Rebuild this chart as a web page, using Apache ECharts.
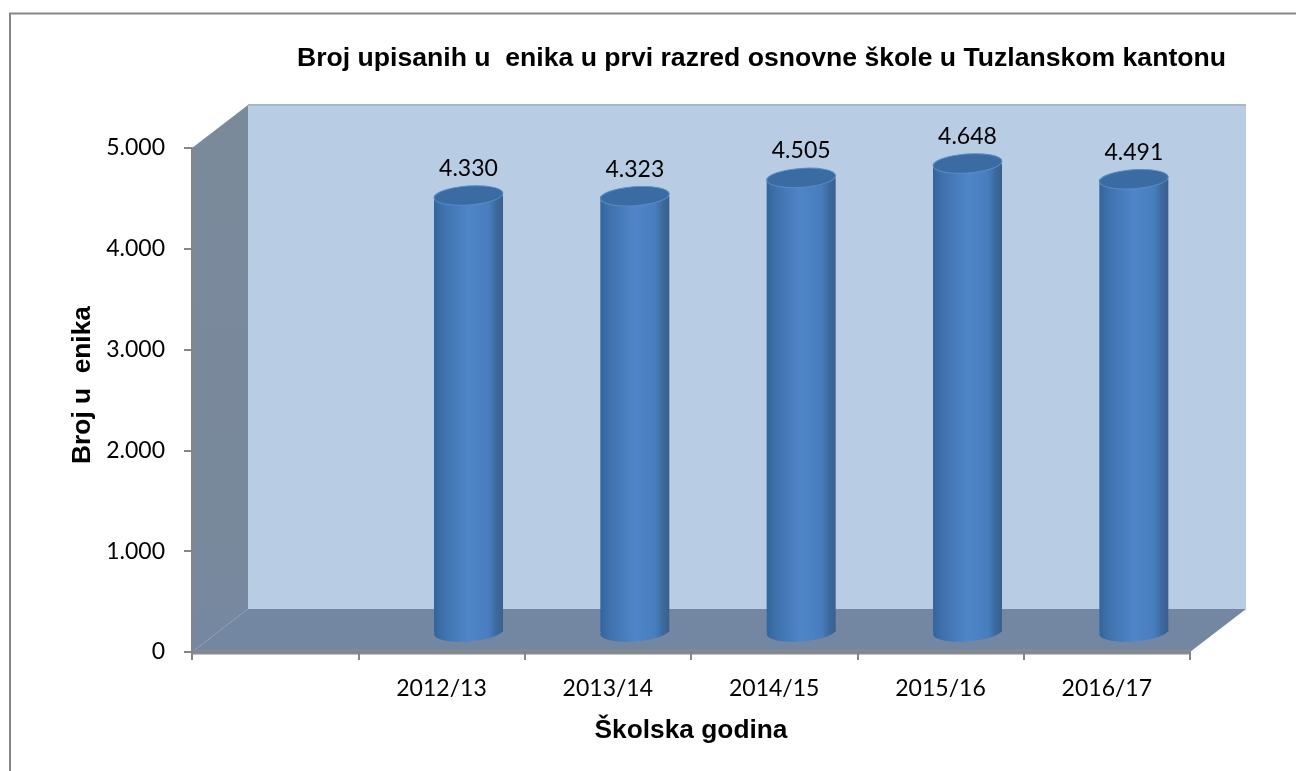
<!DOCTYPE html>
<html><head><meta charset="utf-8">
<style>html,body{margin:0;padding:0;background:#fff}#c{width:1296px;height:771px}</style>
<script src="https://cdn.jsdelivr.net/npm/echarts@6/dist/echarts.min.js"></script>
</head><body><div id="c"></div>
<script>
const titleText = 'Broj upisanih u  enika u prvi razred osnovne škole u Tuzlanskom kantonu';
const yName = 'Broj u  enika';
const xName = 'Školska godina';
const categories = ['', '2012/13', '2013/14', '2014/15', '2015/16', '2016/17'];
const values = [null, 4330, 4323, 4505, 4648, 4491];
const yTicks = [0, 1000, 2000, 3000, 4000, 5000];

const DX = 56, DY = -43;       // depth of the 3D box
const fmt = v => String(v).replace(/\B(?=(\d{3})+$)/g, '.');
const labelFont = 'Lato';

const chart = echarts.init(document.getElementById('c'), null, {renderer: 'canvas'});

function walls(params, api) {
  const a = api.coord([0, 0]), s = api.size([1, 0]);
  const x0 = a[0] - s[0] / 2, x1 = x0 + s[0] * categories.length;
  const y0 = a[1], yt = api.coord([0, yTicks[yTicks.length - 1]])[1];
  return {type: 'group', children: [
    {type: 'polygon', shape: {points: [[x0 + DX, yt + DY], [x1 + DX, yt + DY], [x1 + DX, y0 + DY], [x0 + DX, y0 + DY]]},
      style: {fill: '#b8cce4'}},
    {type: 'line', shape: {x1: x0 + DX, y1: yt + DY, x2: x1 + DX, y2: yt + DY}, style: {stroke: '#a9b6c6', lineWidth: 2}},
    {type: 'polygon', shape: {points: [[x0, yt], [x0 + DX, yt + DY], [x0 + DX, y0 + DY], [x0, y0]]},
      style: {fill: new echarts.graphic.LinearGradient(0, 0, 0, 1, [
        {offset: 0, color: '#7a8a9b'}, {offset: .8, color: '#79899c'}, {offset: 1, color: '#7587a2'}])}},
    {type: 'polygon', shape: {points: [[x0, y0], [x0 + DX, y0 + DY], [x1 + DX, y0 + DY], [x1, y0]]},
      style: {fill: '#7387a3'}},
    {type: 'line', shape: {x1: x0, y1: y0, x2: x1, y2: y0}, style: {stroke: '#838c9c', lineWidth: 5}}
  ]};
}

function cylinder(params, api) {
  const cat = api.value(0), val = api.value(1);
  const base = api.coord([cat, 0]), top = api.coord([cat, val]);
  const cx = base[0] + 27, rx = 34.5, ry = 9.5;
  const yb = base[1] - 20, yt = top[1] - 20;
  const tilt = 0.07;
  const body = new echarts.graphic.LinearGradient(0, 0, 1, 0, [
    {offset: 0, color: '#33649c'}, {offset: .14, color: '#3f72ad'}, {offset: .5, color: '#4f86c9'},
    {offset: .8, color: '#477dbd'}, {offset: .9, color: '#3c6a9e'}, {offset: 1, color: '#3a5f8e'}]);
  return {type: 'group', children: [
    {type: 'ellipse', shape: {cx: cx, cy: yb, rx: rx, ry: ry}, rotation: tilt, originX: cx, originY: yb, style: {fill: body}},
    {type: 'rect', shape: {x: cx - rx, y: yt, width: 2 * rx, height: yb - yt}, style: {fill: body}},
    {type: 'ellipse', shape: {cx: cx, cy: yt, rx: rx, ry: ry}, rotation: tilt, originX: cx, originY: yt,
      style: {fill: '#3a6ba3', stroke: '#5a8cc2', lineWidth: 1}},
    {type: 'text', style: {text: fmt(val), x: cx, y: yt - 27, align: 'center', verticalAlign: 'middle',
      font: '23px ' + labelFont, fill: '#000'}}
  ]};
}

chart.setOption({
  animation: false,
  backgroundColor: '#fff',
  title: {text: titleText, left: 292, top: 40,
    textStyle: {fontFamily: 'Liberation Sans', fontWeight: 'bold', fontSize: 26.6, color: '#000'}},
  graphic: [{type: 'polyline', silent: true, shape: {points: [[10, 771], [10, 13.5], [1296, 13.5]]},
    style: {stroke: '#868686', fill: null, lineWidth: 2}}],
  grid: {left: 192, right: 106, top: 148, bottom: 119},
  xAxis: {type: 'category', data: categories, boundaryGap: true,
    name: xName, nameLocation: 'middle', nameGap: 66,
    nameTextStyle: {fontFamily: 'Liberation Sans', fontWeight: 'bold', fontSize: 26.3, color: '#000'},
    axisLine: {show: true, lineStyle: {color: '#868686', width: 2}},
    axisTick: {show: true, alignWithLabel: false, length: 8, interval: 0, lineStyle: {color: '#868686', width: 2}},
    axisLabel: {interval: 0, margin: 25, fontFamily: labelFont, fontSize: 23, color: '#000'},
    splitLine: {show: false}, z: 5},
  yAxis: {type: 'value', min: 0, max: 5000, interval: 1000,
    name: yName, nameLocation: 'middle', nameGap: 91, nameRotate: 90,
    nameTextStyle: {fontFamily: 'Liberation Sans', fontWeight: 'bold', fontSize: 26.3, color: '#000', padding: [0, 0, 0, 30]},
    axisLine: {show: true, lineStyle: {color: '#868686', width: 2}},
    axisTick: {show: true, length: 8, lineStyle: {color: '#868686', width: 2}},
    axisLabel: {margin: 27, fontFamily: labelFont, fontSize: 23, color: '#000', padding: [3, 0, 0, 0], formatter: v => fmt(v)},
    splitLine: {show: false}, z: 5},
  series: [
    {type: 'custom', coordinateSystem: 'cartesian2d', renderItem: walls, silent: true, clip: false, z: 1,
      data: [[0, 0]], encode: {x: 0, y: 1}},
    {type: 'custom', coordinateSystem: 'cartesian2d', renderItem: cylinder, clip: false, z: 3,
      data: values.map((v, i) => [i, v]).filter(d => d[1] !== null), encode: {x: 0, y: 1}}
  ]
});
</script></body></html>
